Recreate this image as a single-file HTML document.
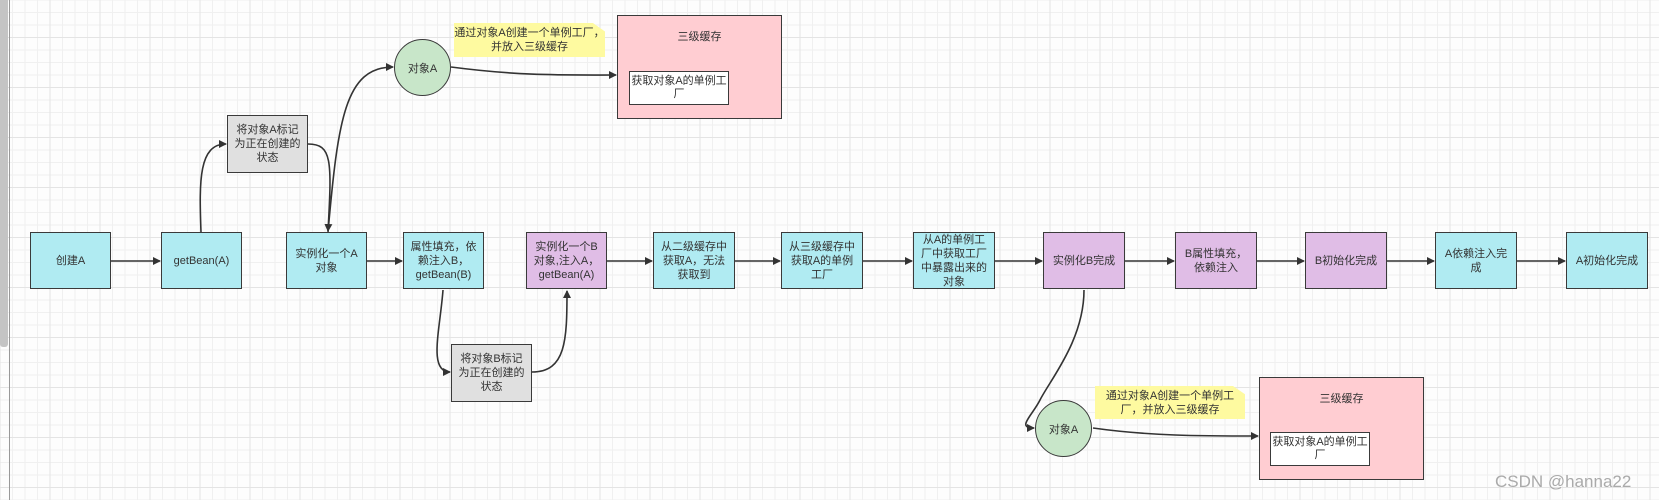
<!DOCTYPE html>
<html><head><meta charset="utf-8"><style>
body{margin:0;width:1659px;height:500px;overflow:hidden;position:relative;font-family:"Liberation Sans","Noto Sans CJK SC",sans-serif;
background-color:#fdfdfd;
background-image:linear-gradient(#e4e4e4 1px,transparent 1px),linear-gradient(90deg,#e4e4e4 1px,transparent 1px),linear-gradient(#f0f0f0 1px,transparent 1px),linear-gradient(90deg,#f0f0f0 1px,transparent 1px);
background-size:50px 50px,50px 50px,12.5px 12.5px,12.5px 12.5px;
background-position:-0.5px 37px,-0.5px 37px,-0.5px 12px,-0.5px 12px;}
.b{position:absolute;box-sizing:border-box;border:1.5px solid #3a3a3a;display:flex;align-items:center;justify-content:center;text-align:center;font-size:11px;line-height:14px;color:#333;padding:2px 4px}
.c{background:#b0ebf2}.p{background:#e0bde6}.g{background:#e0e0e0}
.o{position:absolute;box-sizing:border-box;border:1.5px solid #3a3a3a;border-radius:50%;background:#c8e6c9;display:flex;align-items:center;justify-content:center;font-size:11px;color:#333}
.n{position:absolute;background:#fefaa0;font-size:11px;line-height:14px;color:#333;text-align:center;padding-top:3px;box-sizing:border-box;clip-path:polygon(0 0,92% 0,100% 25%,100% 100%,0 100%)}
.pk{position:absolute;box-sizing:border-box;border:1.5px solid #3a3a3a;background:#ffcdd2;font-size:11px;color:#333;text-align:center;padding-top:12px}
.w{position:absolute;box-sizing:border-box;border:1.5px solid #3a3a3a;background:#fff;font-size:11px;line-height:13px;color:#333;text-align:center;display:flex;align-items:center;justify-content:center}
</style></head><body>
<div style="position:absolute;left:0;top:0;width:8px;height:347px;background:#c4c4c4;border-radius:0 0 3px 3px"></div>
<div style="position:absolute;left:9px;top:0;width:1px;height:500px;background:#999"></div>
<svg width="1659" height="500" style="position:absolute;left:0;top:0">
<defs><marker id="a" markerWidth="8" markerHeight="8" refX="7" refY="4" orient="auto" markerUnits="userSpaceOnUse"><path d="M0,0L8,4L0,8z" fill="#333"/></marker></defs>
<g stroke="#333" stroke-width="1.6" fill="none" marker-end="url(#a)">
<path d="M111,261H160"/><path d="M367,261H402"/><path d="M607,261H652"/><path d="M735,261H780"/><path d="M863,261H912"/><path d="M995,261H1042"/><path d="M1125,261H1174"/><path d="M1257,261H1304"/><path d="M1387,261H1434"/><path d="M1517,261H1565"/>
<path d="M201,232C199,180 199,144 226,144"/>
<path d="M308,144C332,144 332,160 328,231"/>
<path d="M328,232C338,120 345,67 393,67"/>
<path d="M451,67C520,76 560,75 616,75"/>
<path d="M443,290C440,330 428,372 450,372"/>
<path d="M532,372C566,372 567,340 567,291"/>
<path d="M1084,290C1084,340 1050,380 1040,400C1032,416 1016,428 1034,428"/>
<path d="M1093,428C1150,436 1200,436 1258,436"/>
</g></svg>
<div class="b c" style="left:30px;top:232px;width:81px;height:57px">创建A</div>
<div class="b c" style="left:161px;top:232px;width:81px;height:57px">getBean(A)</div>
<div class="b c" style="left:286px;top:232px;width:81px;height:57px">实例化一个A对象</div>
<div class="b c" style="left:403px;top:232px;width:81px;height:57px">属性填充，依赖注入B，getBean(B)</div>
<div class="b p" style="left:526px;top:232px;width:81px;height:57px">实例化一个B对象,注入A，getBean(A)</div>
<div class="b c" style="left:653px;top:232px;width:82px;height:57px">从二级缓存中获取A，无法获取到</div>
<div class="b c" style="left:781px;top:232px;width:82px;height:57px">从三级缓存中获取A的单例工厂</div>
<div class="b c" style="left:913px;top:232px;width:82px;height:57px">从A的单例工厂中获取工厂中暴露出来的对象</div>
<div class="b p" style="left:1043px;top:232px;width:82px;height:57px">实例化B完成</div>
<div class="b p" style="left:1175px;top:232px;width:82px;height:57px">B属性填充，依赖注入</div>
<div class="b p" style="left:1305px;top:232px;width:82px;height:57px">B初始化完成</div>
<div class="b c" style="left:1435px;top:232px;width:82px;height:57px">A依赖注入完成</div>
<div class="b c" style="left:1566px;top:232px;width:82px;height:57px">A初始化完成</div>
<div class="b g" style="left:227px;top:115px;width:81px;height:58px">将对象A标记为正在创建的状态</div>
<div class="b g" style="left:451px;top:344px;width:81px;height:58px">将对象B标记为正在创建的状态</div>
<div class="o" style="left:394px;top:39px;width:57px;height:57px">对象A</div>
<div class="o" style="left:1035px;top:400px;width:57px;height:57px">对象A</div>
<div class="n" style="left:454px;top:23px;width:151px;height:34px">通过对象A创建一个单例工厂，并放入三级缓存</div>
<div class="n" style="left:1095px;top:386px;width:150px;height:33px">通过对象A创建一个单例工厂，并放入三级缓存</div>
<div class="pk" style="left:617px;top:15px;width:165px;height:104px">三级缓存</div>
<div class="w" style="left:629px;top:71px;width:100px;height:34px">获取对象A的单例工厂</div>
<div class="pk" style="left:1259px;top:377px;width:165px;height:103px">三级缓存</div>
<div class="w" style="left:1270px;top:432px;width:100px;height:34px">获取对象A的单例工厂</div>
<div style="position:absolute;left:1495px;top:472px;font-size:17px;color:#aaa">CSDN @hanna22</div>
</body></html>
